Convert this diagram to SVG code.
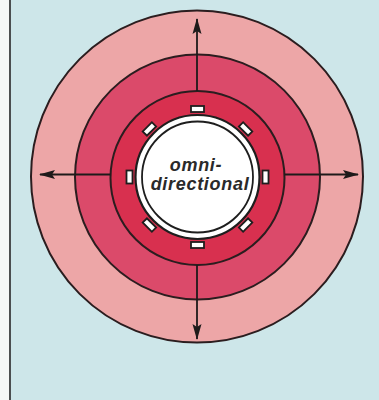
<svg xmlns="http://www.w3.org/2000/svg" width="379" height="400" viewBox="0 0 379 400">
  <defs>
    <style>
      .ring { stroke: #2b1d1f; stroke-width: 2; }
      .tab { fill: #ffffff; stroke: #1e1e1e; stroke-width: 1.8; }
      .axis { stroke: #1e1a1a; stroke-width: 1.8; fill: none; }
      .label { font-family: "Liberation Sans", "DejaVu Sans", sans-serif; font-weight: bold; font-style: italic; font-size: 18px; letter-spacing: 0.7px; fill: #2a2a2a; }
    </style>
    <marker id="arrow" viewBox="0 0 16 10" refX="15" refY="5" markerWidth="16" markerHeight="10" markerUnits="userSpaceOnUse" orient="auto">
      <path d="M0,0.5 L16,5 L0,9.5 L3,5 Z" fill="#1e1a1a"/>
    </marker>
  </defs>

  <rect x="0" y="0" width="379" height="400" fill="#cde6e9"/>
  <rect x="0" y="0" width="9" height="400" fill="#f4f7f7"/>
  <line x1="10" y1="0" x2="10" y2="400" stroke="#4a4e50" stroke-width="2"/>

  <g id="outer-ring">
    <circle cx="197" cy="176.5" r="166" class="ring" fill="#eda6a7"/>
  </g>
  <g id="middle-ring">
    <circle cx="197.5" cy="177" r="122.5" class="ring" fill="#db4a6a"/>
  </g>
  <g id="inner-ring">
    <circle cx="197.5" cy="178" r="87" class="ring" fill="#d8304f"/>
  </g>

  <g id="connectors">
    <line x1="197" y1="91" x2="197" y2="19" class="axis" marker-end="url(#arrow)"/>
    <line x1="197" y1="265" x2="197" y2="339" class="axis" marker-end="url(#arrow)"/>
    <line x1="110.5" y1="174.5" x2="40" y2="174.5" class="axis" marker-end="url(#arrow)"/>
    <line x1="284.5" y1="174.5" x2="358" y2="174.5" class="axis" marker-end="url(#arrow)"/>
  </g>

  <g id="hub">
    <g transform="translate(197.5,177)">
      <g class="tab-set">
        <rect x="-6.5" y="-71" width="13" height="6" class="tab" transform="rotate(0)"/>
        <rect x="-6.5" y="-71" width="13" height="6" class="tab" transform="rotate(45)"/>
        <rect x="-6.5" y="-71" width="13" height="6" class="tab" transform="rotate(90)"/>
        <rect x="-6.5" y="-71" width="13" height="6" class="tab" transform="rotate(135)"/>
        <rect x="-6.5" y="-71" width="13" height="6" class="tab" transform="rotate(180)"/>
        <rect x="-6.5" y="-71" width="13" height="6" class="tab" transform="rotate(225)"/>
        <rect x="-6.5" y="-71" width="13" height="6" class="tab" transform="rotate(270)"/>
        <rect x="-6.5" y="-71" width="13" height="6" class="tab" transform="rotate(315)"/>
      </g>
      <circle cx="0" cy="0" r="62" fill="#ffffff" stroke="#1e1e1e" stroke-width="2.2"/>
      <circle cx="0" cy="0" r="55.5" fill="#ffffff" stroke="#1e1e1e" stroke-width="1.8"/>
    </g>
    <text class="label" x="196" y="171" text-anchor="middle">omni-</text>
    <text class="label" x="200" y="190" text-anchor="middle">directional</text>
  </g>
</svg>
